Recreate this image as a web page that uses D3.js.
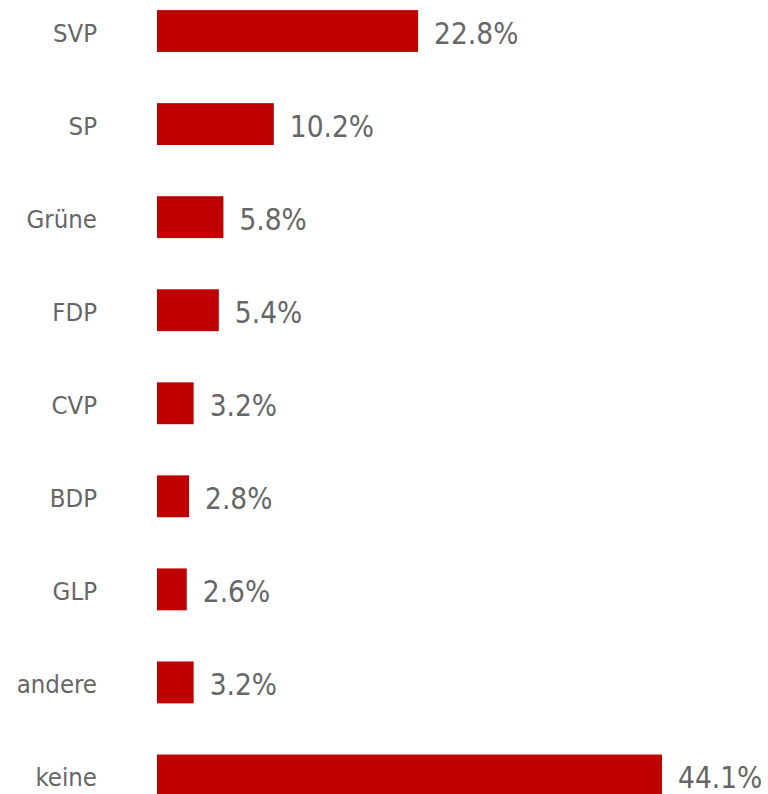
<!DOCTYPE html>
<html><head><meta charset="utf-8">
<script src="https://cdn.jsdelivr.net/npm/d3@7"></script>
<style>body{margin:0;background:#fff;} svg{display:block;}</style>
</head><body>
<svg id="c" width="768" height="794"></svg>
<script>
const categories = ["SVP","SP","Grüne","FDP","CVP","BDP","GLP","andere","keine"];
const values = [22.8,10.2,5.8,5.4,3.2,2.8,2.6,3.2,44.1];
const valueLabels = ["22.8%","10.2%","5.8%","5.4%","3.2%","2.8%","2.6%","3.2%","44.1%"];

const svg = d3.select("#c");
const x = d3.scaleLinear().domain([0, 44.1]).range([157, 662]);
const y = d3.scaleBand().domain(categories).range([-15.5, 822]).paddingInner(0.55).paddingOuter(0.275);
const font = "'DejaVu Sans Condensed','DejaVu Sans',sans-serif";
const gray = "#666666";

svg.selectAll("rect.bar").data(categories).join("rect")
  .attr("x", x(0))
  .attr("y", d => y(d))
  .attr("width", (d,i) => x(values[i]) - x(0))
  .attr("height", y.bandwidth())
  .attr("fill", "#c00000");

svg.selectAll("text.val").data(categories).join("text")
  .attr("x", (d,i) => x(values[i]) + 16)
  .attr("y", d => y(d) + y.bandwidth()/2 + 2)
  .attr("dy", "0.36em")
  .attr("font-family", font).attr("font-size", 29.5).attr("fill", gray)
  .text((d,i) => valueLabels[i]);

svg.selectAll("text.cat").data(categories).join("text")
  .attr("x", 97)
  .attr("y", d => y(d) + y.bandwidth()/2 + 1.5)
  .attr("dy", "0.36em")
  .attr("text-anchor", "end")
  .attr("font-family", font).attr("font-size", 25.5).attr("fill", gray)
  .text(d => d);
</script>
</body></html>
